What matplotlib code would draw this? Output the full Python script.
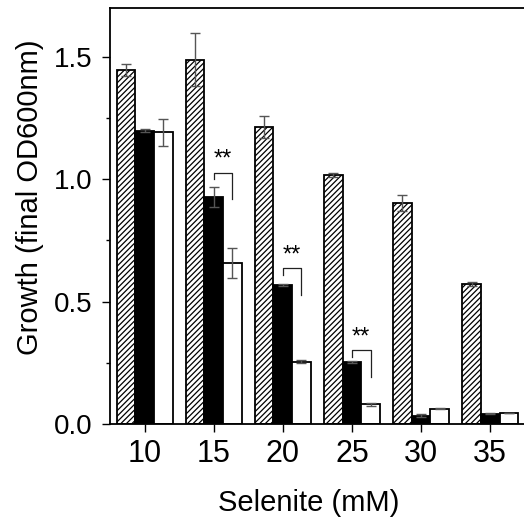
import matplotlib
matplotlib.use('Agg')
import matplotlib.pyplot as plt
import numpy as np

plt.rcParams['font.family'] = ['Liberation Sans', 'DejaVu Sans']
plt.rcParams['hatch.linewidth'] = 0.9

# data
selenite = [10, 15, 20, 25, 30, 35]
hatched = [1.447, 1.488, 1.214, 1.018, 0.903, 0.572]
hatched_err = [0.026, 0.108, 0.046, 0.009, 0.031, 0.010]
black = [1.199, 0.928, 0.568, 0.252, 0.034, 0.042]
black_err = [0.006, 0.042, 0.004, 0.004, 0.005, 0.003]
white = [1.192, 0.659, 0.255, 0.080, 0.063, 0.045]
white_err = [0.055, 0.062, 0.007, 0.007, 0.002, 0.002]

# significance brackets: (group index, top, left leg bottom, right leg bottom)
sig = [(1, 1.027, 1.000, 0.920), (2, 0.636, 0.609, 0.527), (3, 0.302, 0.275, 0.193)]

x = np.array(selenite, dtype=float)
w = 1.35

fig = plt.figure(figsize=(5.24, 5.24), dpi=100)
ax = fig.add_axes([0.2099, 0.1908, 0.7915, 0.7939])

ekw = dict(ecolor='#555555', elinewidth=1.0, capsize=3.5, capthick=1.0)
ax.bar(x - w, hatched, w, yerr=hatched_err, color='white', edgecolor='black',
       hatch='//////', linewidth=1.3, error_kw=ekw, zorder=2)
ax.bar(x, black, w, yerr=black_err, color='black', edgecolor='black',
       linewidth=1.3, error_kw=ekw, zorder=2)
ax.bar(x + w, white, w, yerr=white_err, color='white', edgecolor='black',
       linewidth=1.3, error_kw=ekw, zorder=2)

for i, top, lb, rb in sig:
    x0, x1 = x[i], x[i] + w
    ax.plot([x0, x0, x1, x1], [lb, top, top, rb], color='#222222', lw=0.9, zorder=3)
    ax.text((x0 + x1) / 2, top + 0.008, '**', ha='center', va='bottom', fontsize=17)

ax.set_xlim(7.5, 37.5)
ax.set_ylim(0, 1.7)
ax.set_xticks(selenite)
ax.set_yticks([0.0, 0.5, 1.0, 1.5])
ax.set_yticklabels(['0.0', '0.5', '1.0', '1.5'])
ax.set_yticks([0.25, 0.75, 1.25], minor=True)
ax.tick_params(axis='both', which='major', length=6, width=1.0, direction='out')
ax.tick_params(axis='y', which='minor', length=3, width=1.0, direction='out')
ax.tick_params(axis='x', labelsize=22, pad=5)
ax.tick_params(axis='y', labelsize=20, pad=6.5)

for s in ['left', 'bottom', 'top']:
    ax.spines[s].set_linewidth(1.3)
ax.spines['right'].set_visible(False)

ax.set_xlabel('Selenite (mM)', fontsize=21)
ax.set_ylabel('Growth (final OD600nm)', fontsize=21)
ax.xaxis.set_label_coords(0.48, -0.155)
ax.yaxis.set_label_coords(-0.16, 0.545)

fig.savefig('out.png', dpi=100)
